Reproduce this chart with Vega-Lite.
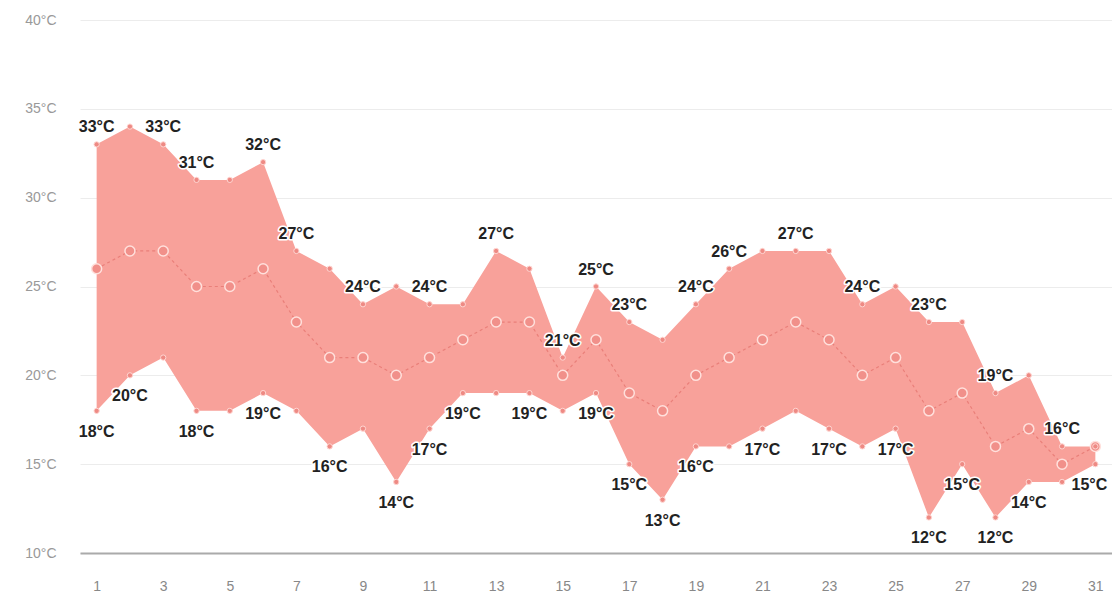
{
  "$schema": "https://vega.github.io/schema/vega-lite/v6.json",
  "width": 1032,
  "height": 533,
  "autosize": {"type": "none"},
  "padding": {"left": 80, "top": 20, "right": 0, "bottom": 46},
  "background": "white",
  "config": {"view": {"stroke": null}},
  "data": {"values": [
    {"day": 1, "min": 18, "mean": 26, "max": 33, "maxLbl": true, "minLbl": true},
    {"day": 2, "min": 20, "mean": 27, "max": 34, "maxLbl": false, "minLbl": true},
    {"day": 3, "min": 21, "mean": 27, "max": 33, "maxLbl": true, "minLbl": false},
    {"day": 4, "min": 18, "mean": 25, "max": 31, "maxLbl": true, "minLbl": true},
    {"day": 5, "min": 18, "mean": 25, "max": 31, "maxLbl": false, "minLbl": false},
    {"day": 6, "min": 19, "mean": 26, "max": 32, "maxLbl": true, "minLbl": true},
    {"day": 7, "min": 18, "mean": 23, "max": 27, "maxLbl": true, "minLbl": false},
    {"day": 8, "min": 16, "mean": 21, "max": 26, "maxLbl": false, "minLbl": true},
    {"day": 9, "min": 17, "mean": 21, "max": 24, "maxLbl": true, "minLbl": false},
    {"day": 10, "min": 14, "mean": 20, "max": 25, "maxLbl": false, "minLbl": true},
    {"day": 11, "min": 17, "mean": 21, "max": 24, "maxLbl": true, "minLbl": true},
    {"day": 12, "min": 19, "mean": 22, "max": 24, "maxLbl": false, "minLbl": true},
    {"day": 13, "min": 19, "mean": 23, "max": 27, "maxLbl": true, "minLbl": false},
    {"day": 14, "min": 19, "mean": 23, "max": 26, "maxLbl": false, "minLbl": true},
    {"day": 15, "min": 18, "mean": 20, "max": 21, "maxLbl": true, "minLbl": false},
    {"day": 16, "min": 19, "mean": 22, "max": 25, "maxLbl": true, "minLbl": true},
    {"day": 17, "min": 15, "mean": 19, "max": 23, "maxLbl": true, "minLbl": true},
    {"day": 18, "min": 13, "mean": 18, "max": 22, "maxLbl": false, "minLbl": true},
    {"day": 19, "min": 16, "mean": 20, "max": 24, "maxLbl": true, "minLbl": true},
    {"day": 20, "min": 16, "mean": 21, "max": 26, "maxLbl": true, "minLbl": false},
    {"day": 21, "min": 17, "mean": 22, "max": 27, "maxLbl": false, "minLbl": true},
    {"day": 22, "min": 18, "mean": 23, "max": 27, "maxLbl": true, "minLbl": false},
    {"day": 23, "min": 17, "mean": 22, "max": 27, "maxLbl": false, "minLbl": true},
    {"day": 24, "min": 16, "mean": 20, "max": 24, "maxLbl": true, "minLbl": false},
    {"day": 25, "min": 17, "mean": 21, "max": 25, "maxLbl": false, "minLbl": true},
    {"day": 26, "min": 12, "mean": 18, "max": 23, "maxLbl": true, "minLbl": true},
    {"day": 27, "min": 15, "mean": 19, "max": 23, "maxLbl": false, "minLbl": true},
    {"day": 28, "min": 12, "mean": 16, "max": 19, "maxLbl": true, "minLbl": true},
    {"day": 29, "min": 14, "mean": 17, "max": 20, "maxLbl": false, "minLbl": true},
    {"day": 30, "min": 14, "mean": 15, "max": 16, "maxLbl": true, "minLbl": false},
    {"day": 31, "min": 15, "mean": 16, "max": 16, "maxLbl": false, "minLbl": true}
  ]},
  "transform": [
    {"calculate": "datum.max + '°C'", "as": "maxText"},
    {"calculate": "datum.min + '°C'", "as": "minText"}
  ],
  "encoding": {
    "x": {
      "field": "day", "type": "quantitative",
      "scale": {"domain": [0.5, 31.5], "nice": false, "zero": false},
      "axis": {
        "title": null, "values": [1,3,5,7,9,11,13,15,17,19,21,23,25,27,29,31],
        "grid": false, "ticks": false, "domain": true, "domainColor": "#aaaaaa", "domainWidth": 2,
        "labelFont": "Liberation Sans", "labelFontSize": 14, "labelColor": "#888888", "labelPadding": 26
      }
    }
  },
  "layer": [
    {
      "mark": {"type": "area", "color": "#f8a19a", "opacity": 1},
      "encoding": {
        "y": {
          "field": "min", "type": "quantitative",
          "scale": {"domain": [10, 40], "nice": false, "zero": false},
          "axis": {
            "title": null, "values": [10,15,20,25,30,35,40], "labelExpr": "datum.value + '°C'",
            "grid": true, "gridColor": "#ececec", "gridWidth": 1, "ticks": false, "domain": false,
            "labelFont": "Liberation Sans", "labelFontSize": 14, "labelColor": "#999999", "labelPadding": 24
          }
        },
        "y2": {"field": "max"}
      }
    },
    {
      "mark": {"type": "line", "color": "#e97f79", "strokeWidth": 1.2, "strokeDash": [3, 3]},
      "encoding": {"y": {"field": "mean", "type": "quantitative"}}
    },
    {
      "mark": {"type": "point", "filled": true, "shape": "circle", "size": 100, "fill": "#f1908a", "stroke": "#ffe0dc", "strokeWidth": 1.5, "opacity": 1},
      "encoding": {"y": {"field": "mean", "type": "quantitative"}}
    },
    {
      "mark": {"type": "point", "filled": true, "shape": "circle", "size": 28, "fill": "#ee8a84", "stroke": "#ffd6d2", "strokeWidth": 1, "opacity": 1},
      "encoding": {"y": {"field": "max", "type": "quantitative"}}
    },
    {
      "mark": {"type": "point", "filled": true, "shape": "circle", "size": 28, "fill": "#ee8a84", "stroke": "#ffd6d2", "strokeWidth": 1, "opacity": 1},
      "encoding": {"y": {"field": "min", "type": "quantitative"}}
    },
    {
      "transform": [{"filter": "datum.maxLbl"}],
      "mark": {"type": "text", "font": "Liberation Sans", "fontWeight": "bold", "fontSize": 16, "dy": -17, "stroke": "white", "strokeWidth": 3, "strokeJoin": "round", "fill": "white"},
      "encoding": {"y": {"field": "max", "type": "quantitative"}, "text": {"field": "maxText"}}
    },
    {
      "transform": [{"filter": "datum.maxLbl"}],
      "mark": {"type": "text", "font": "Liberation Sans", "fontWeight": "bold", "fontSize": 16, "dy": -17, "fill": "#222222"},
      "encoding": {"y": {"field": "max", "type": "quantitative"}, "text": {"field": "maxText"}}
    },
    {
      "transform": [{"filter": "datum.minLbl && datum.day < 31"}],
      "mark": {"type": "text", "font": "Liberation Sans", "fontWeight": "bold", "fontSize": 16, "dy": 21, "stroke": "white", "strokeWidth": 3, "strokeJoin": "round", "fill": "white"},
      "encoding": {"y": {"field": "min", "type": "quantitative"}, "text": {"field": "minText"}}
    },
    {
      "transform": [{"filter": "datum.minLbl && datum.day < 31"}],
      "mark": {"type": "text", "font": "Liberation Sans", "fontWeight": "bold", "fontSize": 16, "dy": 21, "fill": "#222222"},
      "encoding": {"y": {"field": "min", "type": "quantitative"}, "text": {"field": "minText"}}
    },
    {
      "transform": [{"filter": "datum.minLbl && datum.day == 31"}],
      "mark": {"type": "text", "font": "Liberation Sans", "fontWeight": "bold", "fontSize": 16, "dy": 21, "dx": -6, "stroke": "white", "strokeWidth": 3, "strokeJoin": "round", "fill": "white"},
      "encoding": {"y": {"field": "min", "type": "quantitative"}, "text": {"field": "minText"}}
    },
    {
      "transform": [{"filter": "datum.minLbl && datum.day == 31"}],
      "mark": {"type": "text", "font": "Liberation Sans", "fontWeight": "bold", "fontSize": 16, "dy": 21, "dx": -6, "fill": "#222222"},
      "encoding": {"y": {"field": "min", "type": "quantitative"}, "text": {"field": "minText"}}
    }
  ]
}
